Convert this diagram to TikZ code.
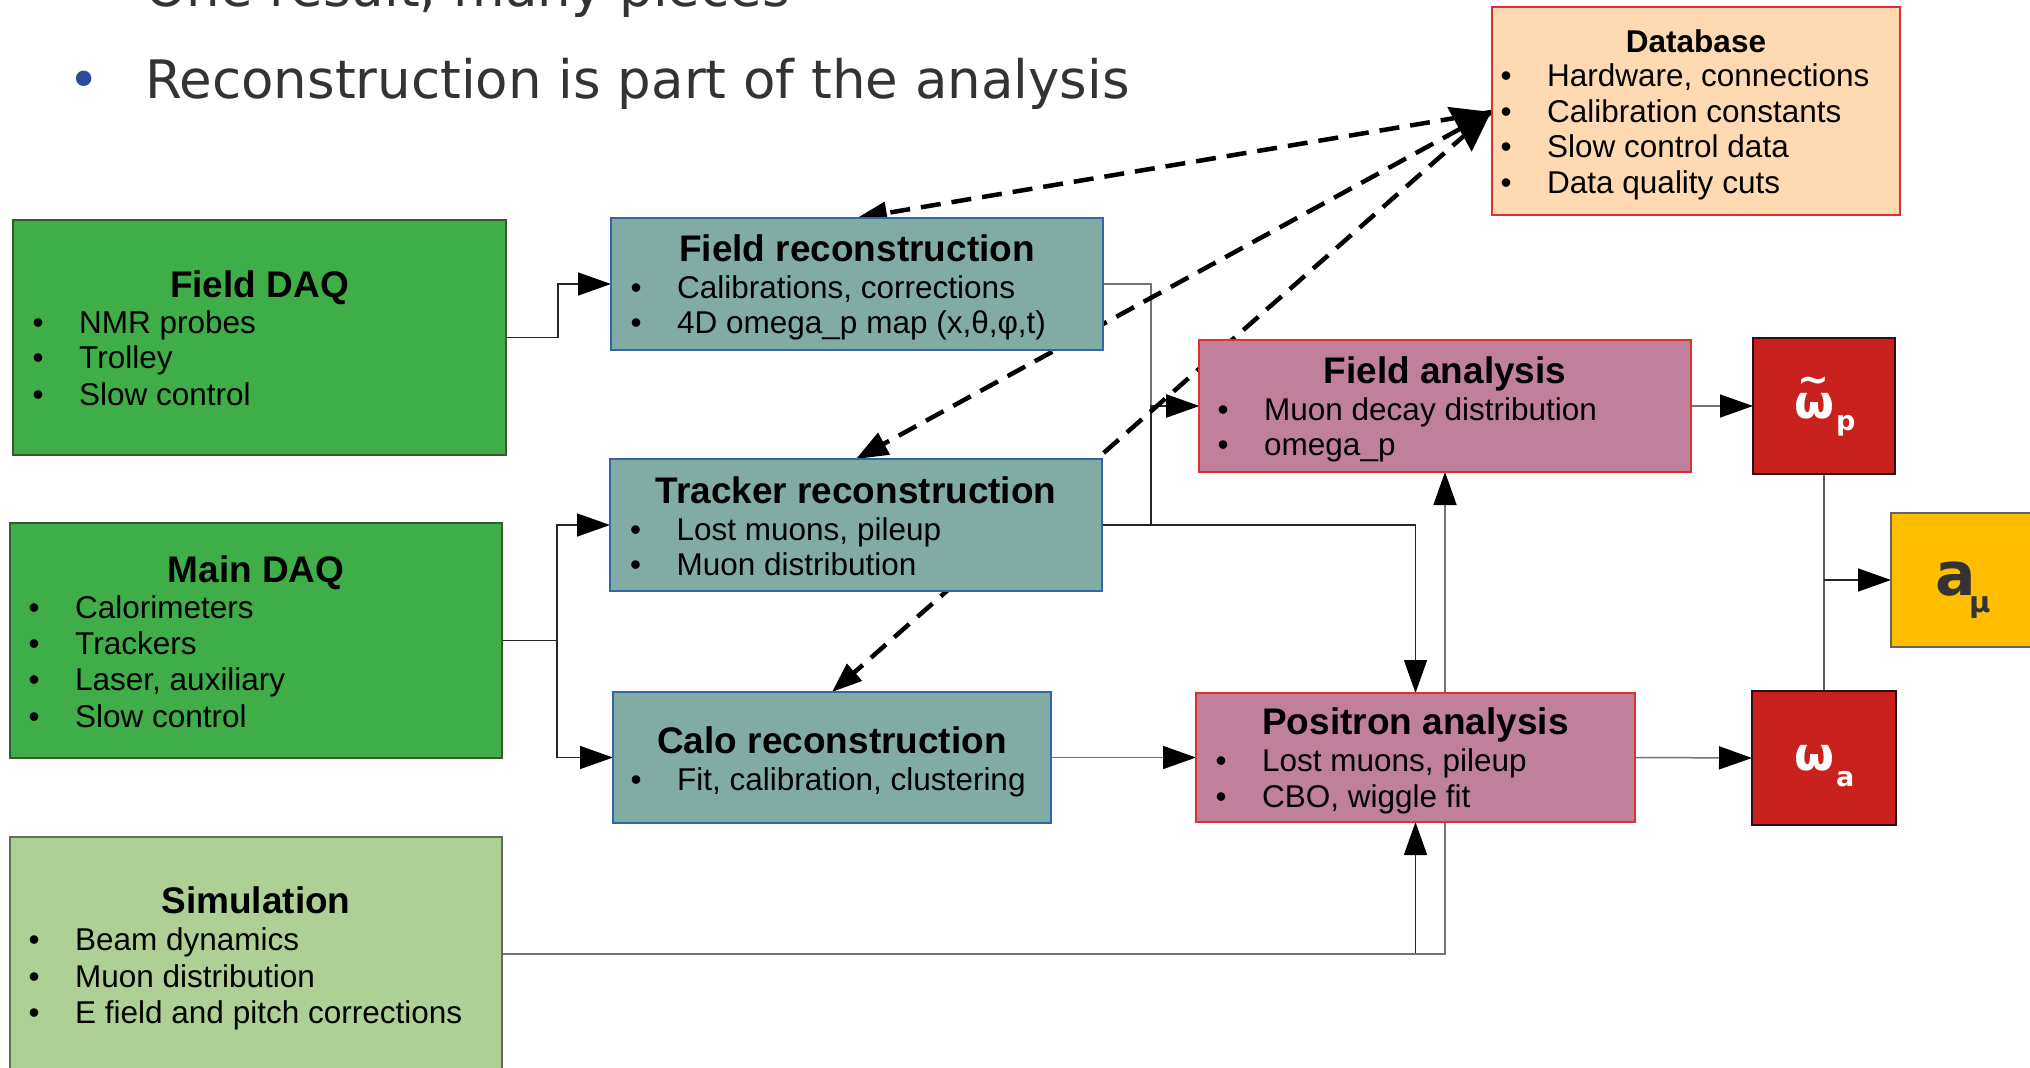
\documentclass[tikz,border=0pt]{standalone}
\usepackage{fontspec}
\setmainfont{Liberation Sans}
\newfontfamily\djv{DejaVu Sans}
\usetikzlibrary{arrows.meta,backgrounds,calc}
\pgfdeclarelayer{paper}
\pgfsetlayers{paper,background,main}
\definecolor{dgreen}{RGB}{63,174,73}
\definecolor{dgreenb}{RGB}{60,85,50}
\definecolor{lgreen}{RGB}{175,208,149}
\definecolor{lgreenb}{RGB}{100,110,90}
\definecolor{teal2}{RGB}{129,172,166}
\definecolor{tealb}{RGB}{52,101,164}
\definecolor{mauve}{RGB}{192,128,156}
\definecolor{redb}{RGB}{222,48,48}
\definecolor{peach}{RGB}{255,217,178}
\definecolor{omred}{RGB}{201,33,30}
\definecolor{omredb}{RGB}{40,20,20}
\definecolor{amber}{RGB}{255,191,0}
\definecolor{amberb}{RGB}{100,100,100}
\definecolor{txtgray}{RGB}{51,51,51}
\definecolor{bblue}{RGB}{42,75,160}
\newcommand{\bitem}[3]{\node[itm] (#1) at (#2) {\makebox[46.5pt][l]{•}#3};}
\begin{document}
\begin{tikzpicture}[x=1pt,y=-1pt,
  box/.style={draw, line width=1.5pt, inner sep=0pt, outer sep=0pt},
  ttl/.style={font=\fontsize{37}{40}\selectfont\bfseries, inner sep=0pt, anchor=base},
  itm/.style={font=\fontsize{31.5}{36}\selectfont, inner sep=0pt, anchor=base west},
  conn/.style={line width=1.5pt, draw=black!85},
  arr/.style={-{Triangle[length=33pt,width=23pt,black]}},
  dsh/.style={line width=4.5pt, dash pattern=on 20pt off 11pt},
  omg/.style={font=\djv\bfseries\fontsize{46}{50}\selectfont, text=white, inner sep=0pt, anchor=base west},
  omgs/.style={font=\djv\bfseries\fontsize{27}{30}\selectfont, text=white, inner sep=0pt, anchor=base west},
]
\useasboundingbox (0,0) rectangle (2030,1068);
\begin{pgfonlayer}{paper}
\fill[white] (0,0) rectangle (2030,1068);
\end{pgfonlayer}
\clip (0,0) rectangle (2030,1068);

% heading text
\node[font=\djv\fontsize{53}{60}\selectfont, text=txtgray, anchor=base west, inner sep=0pt] (t1) at (145,6) {One result, many pieces};
\node[font=\djv\fontsize{53}{60}\selectfont, text=bblue, anchor=base west, inner sep=0pt] (t2b) at (68,98) {•};
\node[font=\djv\fontsize{53}{60}\selectfont, text=txtgray, anchor=base west, inner sep=0pt] (t2) at (145,98) {Reconstruction is part of the analysis};

% boxes
\node[box, fill=peach, draw=redb, minimum width=408pt, minimum height=208pt] (db) at (1696,111) {};
\node[box, fill=dgreen, draw=dgreenb, minimum width=493pt, minimum height=235pt] (fd) at (259.5,337.5) {};
\node[box, fill=dgreen, draw=dgreenb, minimum width=492pt, minimum height=235pt] (md) at (256,640.5) {};
\node[box, fill=lgreen, draw=lgreenb, minimum width=492pt, minimum height=234pt] (sim) at (256,954) {};
\node[box, fill=teal2, draw=tealb, minimum width=492pt, minimum height=132pt] (fr) at (857,284) {};
\node[box, fill=teal2, draw=tealb, minimum width=492pt, minimum height=132pt] (tr) at (856,525) {};
\node[box, fill=teal2, draw=tealb, minimum width=438pt, minimum height=131pt] (cr) at (832,757.5) {};
\node[box, fill=mauve, draw=redb, minimum width=492pt, minimum height=132pt] (fa) at (1445,406) {};
\node[box, fill=mauve, draw=redb, minimum width=439pt, minimum height=129pt] (pa) at (1415.5,757.5) {};
\node[box, fill=omred, draw=omredb, minimum width=142pt, minimum height=136pt] (wp) at (1824,406) {};
\node[box, fill=omred, draw=omredb, minimum width=144pt, minimum height=134pt] (wa) at (1824,758) {};
\node[box, fill=amber, draw=amberb, minimum width=154pt, minimum height=134pt] (am) at (1968,580) {};

% Database text
\node[ttl, font=\fontsize{31.5}{36}\selectfont\bfseries] (dbt) at (1696,52) {Database};
\bitem{db1}{1500.5,86}{Hardware, connections}
\bitem{db2}{1500.5,122}{Calibration constants}
\bitem{db3}{1500.5,157}{Slow control data}
\bitem{db4}{1500.5,193}{Data quality cuts}

% Field DAQ
\node[ttl] (fdt) at (259.5,297) {Field DAQ};
\bitem{fd1}{32.5,333}{NMR probes}
\bitem{fd2}{32.5,368}{Trolley}
\bitem{fd3}{32.5,405}{Slow control}

% Main DAQ
\node[ttl] (mdt) at (256,582) {Main DAQ};
\bitem{md1}{28.5,618}{Calorimeters}
\bitem{md2}{28.5,654}{Trackers}
\bitem{md3}{28.5,690}{Laser, auxiliary}
\bitem{md4}{28.5,727}{Slow control}

% Simulation
\node[ttl] (simt) at (256,913) {Simulation};
\bitem{sim1}{28.5,950}{Beam dynamics}
\bitem{sim2}{28.5,987}{Muon distribution}
\bitem{sim3}{28.5,1023}{E field and pitch corrections}

% Field reconstruction
\node[ttl] (frt) at (857,261) {Field reconstruction};
\bitem{fr1}{630.5,298}{Calibrations, corrections}
\bitem{fr2}{630.5,333}{4D omega\_p map (x,θ,φ,t)}

% Tracker reconstruction
\node[ttl] (trt) at (856,503) {Tracker reconstruction};
\bitem{tr1}{630,540}{Lost muons, pileup}
\bitem{tr2}{630,575}{Muon distribution}

% Calo reconstruction
\node[ttl] (crt) at (832,753) {Calo reconstruction};
\bitem{cr1}{630.5,790}{Fit, calibration, clustering}

% Field analysis
\node[ttl] (fat) at (1445,383) {Field analysis};
\bitem{fa1}{1217.5,420}{Muon decay distribution}
\bitem{fa2}{1217.5,455}{omega\_p}

% Positron analysis
\node[ttl] (pat) at (1415.5,734) {Positron analysis};
\bitem{pa1}{1215.5,771}{Lost muons, pileup}
\bitem{pa2}{1215.5,807}{CBO, wiggle fit}

% omega_p, omega_a, a_mu
\node[omg] (wpw) at (1794,418) {ω};
\node[font=\djv\bfseries\fontsize{38}{40}\selectfont, text=white, inner sep=0pt] (wpt) at (1813,385) {\textasciitilde};
\node[omgs] (wpp) at (1836,430) {p};
\node[omg] (waw) at (1794,770) {ω};
\node[omgs] (waa) at (1836,786) {a};
\node[font=\djv\bfseries\fontsize{60}{66}\selectfont, text=txtgray, inner sep=0pt, anchor=base west] (ama) at (1935,595) {a};
\node[font=\djv\bfseries\fontsize{29}{30}\selectfont, text=txtgray, inner sep=0pt, anchor=base west] (amm) at (1969,612) {μ};

\coordinate (dbp) at ($(db.west)+(-1,1)$);

\begin{scope}[on background layer]
  % solid connectors
  \draw[conn,arr] (fd.east) -- ++(52,0) |- (fr.west);
  \draw[conn,arr] (md.east) -- ++(55,0) |- (tr.west);
  \draw[conn,arr] (md.east) -- ++(55,0) |- (cr.west);
  \draw[conn,draw=black!55,arr] (fr.east) -- ++(48,0) |- (fa.west);
  \draw[conn,arr] (tr.east) -- ++(49,0) |- (fa.west);
  \draw[conn,arr] (tr.east) -| (pa.north);
  \draw[conn,draw=black!55,arr] (cr.east) -- (pa.west);
  \draw[conn,arr] (sim.east) -| (pa.south);
  \draw[conn,draw=black!55,arr] (sim.east) -| (fa.south);
  \draw[conn,draw=black!55,arr] (fa.east) -- (wp.west);
  \draw[conn,draw=black!55,arr] (pa.east) -- (wa.west);
  \draw[conn,draw=black!65] (wp.south) -- (wa.north);
  \draw[conn,arr] (wp.south |- am.west) -- (am.west);
  % dashed connectors from the database
  \draw[dsh,-{Triangle[length=30pt,width=22pt]}] (dbp) -- (fr.north);
  \draw[dsh,-{Triangle[length=30pt,width=22pt]}] (dbp) -- (cr.north);
  \draw[dsh,{Triangle[length=36pt,width=50pt]}-{Triangle[length=32pt,width=24pt]}] (dbp) -- (tr.north);
\end{scope}
\end{tikzpicture}
\end{document}
